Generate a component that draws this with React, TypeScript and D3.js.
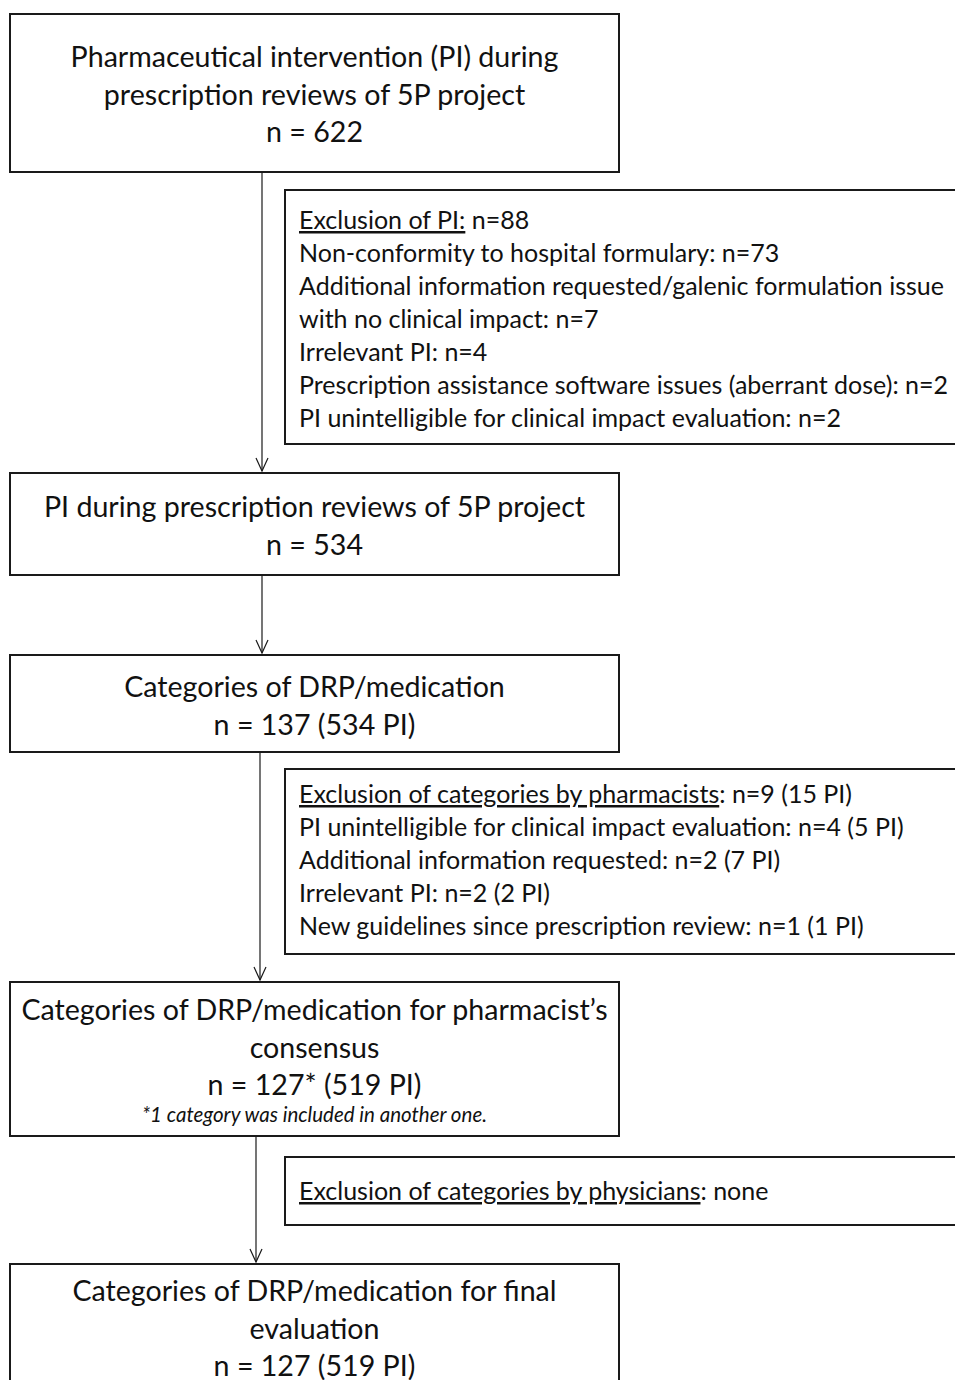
import React, { useRef, useEffect } from "react";
import * as d3 from "d3";

const W = 955;
const H = 1380;

// main flow boxes: text lines and counts
const mainTitles: string[][] = [
  ["Pharmaceutical intervention (PI) during", "prescription reviews of 5P project"],
  ["PI during prescription reviews of 5P project"],
  ["Categories of DRP/medication"],
  ["Categories of DRP/medication for pharmacist\u2019s", "consensus"],
  ["Categories of DRP/medication for final", "evaluation"],
];
const mainCounts: string[] = [
  "n = 622",
  "n = 534",
  "n = 137 (534 PI)",
  "n = 127* (519 PI)",
  "n = 127 (519 PI)",
];
const mainNotes: string[] = ["", "", "", "*1 category was included in another one.", ""];

// exclusion boxes: underlined heading, rest of heading, detail lines
const exclHeads: string[] = [
  "Exclusion of PI:",
  "Exclusion of categories by pharmacists",
  "Exclusion of categories by physicians",
];
const exclHeadRest: string[] = [" n=88", ": n=9 (15 PI)", ": none"];
const exclLines: string[][] = [
  [
    "Non-conformity to hospital formulary: n=73",
    "Additional information requested/galenic formulation issue",
    "with no clinical impact: n=7",
    "Irrelevant PI: n=4",
    "Prescription assistance software issues (aberrant dose): n=2",
    "PI unintelligible for clinical impact evaluation: n=2",
  ],
  [
    "PI unintelligible for clinical impact evaluation: n=4 (5 PI)",
    "Additional information requested: n=2 (7 PI)",
    "Irrelevant PI: n=2 (2 PI)",
    "New guidelines since prescription review: n=1 (1 PI)",
  ],
  [],
];

// layout
const mainBoxes = [
  { y0: 14, y1: 172, base: 67 },
  { y0: 473, y1: 575, base: 517 },
  { y0: 655, y1: 752, base: 697 },
  { y0: 982, y1: 1136, base: 1020 },
  { y0: 1264, y1: 1400, base: 1301 },
];
const exclBoxes = [
  { y0: 190, y1: 444, base: 229 },
  { y0: 769, y1: 954, base: 803 },
  { y0: 1157, y1: 1225, base: 1200 },
];
const arrowX = [262, 262, 260, 256];

const FONT = "Lato, 'Open Sans', sans-serif";

const App = () => {
  const ref = useRef<SVGSVGElement>(null);

  useEffect(() => {
    const svg = d3.select(ref.current);
    svg.selectAll("*").remove();

    const boxX0 = 10;
    const boxX1 = 619;
    const cx = (boxX0 + boxX1) / 2;
    const lineH = 37.5;
    const mainSize = 28.6;
    const exSize = 25;

    // main boxes
    mainBoxes.forEach((b, i) => {
      svg
        .append("rect")
        .attr("x", boxX0)
        .attr("y", b.y0)
        .attr("width", boxX1 - boxX0)
        .attr("height", b.y1 - b.y0)
        .attr("fill", "#fff")
        .attr("stroke", "#1a1a1a")
        .attr("stroke-width", 2);

      const lines = [...mainTitles[i], mainCounts[i]];
      lines.forEach((t, j) => {
        svg
          .append("text")
          .attr("x", cx)
          .attr("y", b.base + j * lineH)
          .attr("text-anchor", "middle")
          .attr("font-family", FONT)
          .attr("font-size", mainSize)
          .attr("fill", "#111")
          .text(t);
      });
      if (mainNotes[i] !== "") {
        svg
          .append("text")
          .attr("x", cx)
          .attr("y", b.y0 + 140)
          .attr("text-anchor", "middle")
          .attr("font-family", FONT)
          .attr("font-style", "italic")
          .attr("font-size", 20.5)
          .attr("fill", "#111")
          .text(mainNotes[i]);
      }
    });

    // exclusion boxes
    const exX0 = 285;
    const exTextX = 299;
    const exLineH = 33;
    exclBoxes.forEach((b, i) => {
      svg
        .append("rect")
        .attr("x", exX0)
        .attr("y", b.y0)
        .attr("width", W + 20 - exX0)
        .attr("height", b.y1 - b.y0)
        .attr("fill", "#fff")
        .attr("stroke", "#1a1a1a")
        .attr("stroke-width", 2);

      const head = svg
        .append("text")
        .attr("x", exTextX)
        .attr("y", b.base)
        .attr("font-family", FONT)
        .attr("font-size", exSize)
        .attr("fill", "#111");
      head.append("tspan").attr("text-decoration", "underline").text(exclHeads[i]);
      head.append("tspan").text(exclHeadRest[i]);

      exclLines[i].forEach((t, j) => {
        svg
          .append("text")
          .attr("x", exTextX)
          .attr("y", b.base + (j + 1) * exLineH)
          .attr("font-family", FONT)
          .attr("font-size", exSize)
          .attr("fill", "#111")
          .text(t);
      });
    });

    // arrows between main boxes
    arrowX.forEach((x, i) => {
      const yStart = mainBoxes[i].y1;
      const yEnd = mainBoxes[i + 1].y0 - 2;
      svg
        .append("line")
        .attr("x1", x)
        .attr("x2", x)
        .attr("y1", yStart)
        .attr("y2", yEnd)
        .attr("stroke", "#1a1a1a")
        .attr("stroke-width", 1.2);
      svg
        .append("path")
        .attr("d", `M${x - 6},${yEnd - 13}L${x},${yEnd}L${x + 6},${yEnd - 13}`)
        .attr("fill", "none")
        .attr("stroke", "#1a1a1a")
        .attr("stroke-width", 1.2);
    });
  }, []);

  return (
    <svg
      ref={ref}
      width={W}
      height={H}
      style={{ position: "absolute", left: 0, top: 0, background: "#fff" }}
    />
  );
};

export default App;
